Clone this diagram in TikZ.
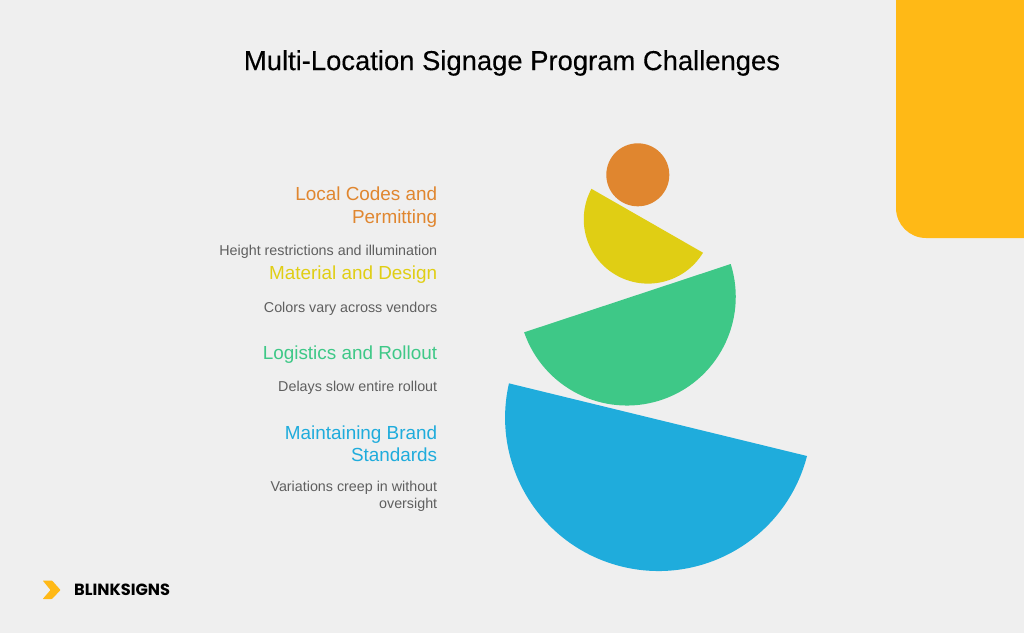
\documentclass[tikz,border=0pt]{standalone}
\usepackage{fontspec}
\setmainfont{Liberation Sans}
\newfontfamily\titlefont[FakeBold=0.25]{Liberation Sans}
\newfontfamily\logofont{Poppins}
\definecolor{pagebg}{HTML}{EFEFEF}
\definecolor{gold}{HTML}{FFB916}
\definecolor{codes}{HTML}{E0862F}
\definecolor{design}{HTML}{E0CE14}
\definecolor{rollout}{HTML}{3EC887}
\definecolor{brand}{HTML}{1FACDC}
\definecolor{note}{HTML}{5F5F5F}
\tikzset{
	heading/.style={anchor=east, align=right, inner sep=0pt, font=\fontsize{18.9}{22.4}\selectfont},
	remark/.style={anchor=east, align=right, inner sep=0pt, text=note, font=\fontsize{14.3}{17}\selectfont},
}
\begin{document}
\begin{tikzpicture}[x=1pt, y=-1pt, line join=round, line cap=round]
	\useasboundingbox (0,0) rectangle (1024,633);
	\fill[pagebg] (0,0) rectangle (1024,633);
	\fill[gold] (896,0) [rounded corners=30pt] -- (896,238) [sharp corners] -- (1024,238) -- (1024,0) -- cycle;
	\node[inner sep=0pt, font=\titlefont\fontsize{27.4}{30}\selectfont] (title) at (512,63) {Multi-Location Signage Program Challenges};
	% stacked shapes
	\fill[brand] (807,456) arc[start angle=14.5, end angle=192.9, radius=153.4] -- cycle;
	\fill[rollout] (730.7,264) arc[start angle=-17.5, end angle=160.9, radius=108.8] -- cycle;
	\fill[design] (703,252.7) arc[start angle=31.3, end angle=208.3, radius=64.3] -- cycle;
	\fill[codes] (637.8,174.8) circle[radius=31.5];
	% labels
	\node[heading, text=codes] (codeshead) at (437.4,207) {Local Codes and\\Permitting};
	\node[remark] (codesnote) at (437.4,252) {Height restrictions and illumination};
	\node[heading, text=design] (designhead) at (437.4,275) {Material and Design};
	\node[remark] (designnote) at (437.4,309) {Colors vary across vendors};
	\node[heading, text=rollout] (rollouthead) at (437.4,354.5) {Logistics and Rollout};
	\node[remark] (rolloutnote) at (437.4,388) {Delays slow entire rollout};
	\node[heading, text=brand] (brandhead) at (437.4,443.5) {Maintaining Brand\\Standards};
	\node[remark] (brandnote) at (437.4,496) {Variations creep in without\\oversight};
	% logo
	\fill[gold, rounded corners=0.6pt] (42.7,580.5) -- (52,580.5) -- (60.5,590) -- (52,599) -- (42.7,599) -- (50.5,590) -- cycle;
	\node[anchor=west, inner sep=0pt, font=\logofont\bfseries\fontsize{16.2}{18}\selectfont] (logo) at (74,590) {BLINKSIGNS};
\end{tikzpicture}
\end{document}
